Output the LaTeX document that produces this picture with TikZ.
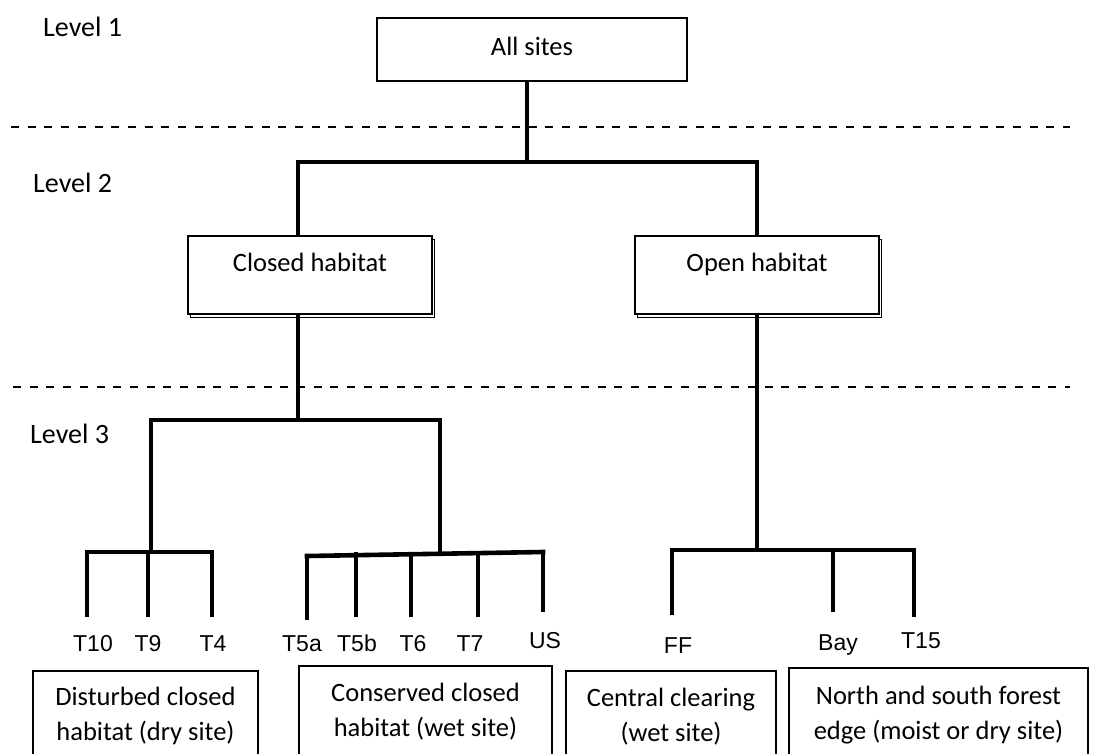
\documentclass[tikz,border=0pt]{standalone}
\usepackage{fontspec}
\setmainfont{Carlito}
\newfontfamily\sitefont{Liberation Sans}
\usetikzlibrary{shadows}

\begin{document}
\begin{tikzpicture}[x=1pt,y=-1pt,
    tree/.style={line width=4.6pt,line cap=rect},
    levelline/.style={line width=2pt,dash pattern=on 8pt off 8.7pt},
    levelname/.style={font=\fontsize{28}{32}\selectfont,anchor=base west,inner sep=0pt},
    habbox/.style={draw,line width=1.8pt,fill=white,inner sep=0pt,minimum width=244pt,
      text height=36pt,text depth=42pt,anchor=north,font=\fontsize{26.5}{32}\selectfont,
      copy shadow={shadow xshift=2pt,shadow yshift=-3pt,line width=0.8pt}},
    sitebox/.style={draw,line width=1.5pt,inner sep=0pt,align=center,anchor=north,
      font=\fontsize{26.5}{35}\selectfont},
    leaf/.style={font=\sitefont\fontsize{23}{28}\selectfont,inner sep=0pt,text height=17pt,anchor=base}]
          \useasboundingbox (0,0) rectangle (1093,753);
          \clip (0,0) rectangle (1093,753);
          % levels
          \node[levelname] (lvl1) at (43,36) {Level 1};
          \node[levelname] (lvl2) at (33,192) {Level 2};
          \node[levelname] (lvl3) at (30,443) {Level 3};
          \draw[levelline] (11,127) -- (1070,127);
          \draw[levelline] (13,387) -- (1070,387);
          % boxes
          \node[draw,line width=1.8pt,inner sep=0pt,minimum width=310pt,text height=37pt,text depth=26pt,
            font=\fontsize{26.5}{32}\selectfont] (all) at (532,49.5) {All sites};
          \node[habbox] (closed) at (310,235) {Closed habitat};
          \node[habbox] (open) at (757,235) {Open habitat};
          \node[sitebox,minimum width=225pt,minimum height=90pt] (dist) at (145.5,670) {Disturbed closed\\habitat (dry site)};
          \node[sitebox,minimum width=253pt,minimum height=91pt] (cons) at (425.5,665) {Conserved closed\\habitat (wet site)};
          \node[sitebox,minimum width=210pt,minimum height=92pt] (clear) at (671,670) {Central clearing\\(wet site)};
          \node[sitebox,minimum width=299pt,minimum height=95pt] (edge) at (938.5,667) {North and south forest\\edge (moist or dry site)};
          % sites
          \node[leaf] (t10) at (93,651) {T10};
          \node[leaf] (t9) at (148,651) {T9};
          \node[leaf] (t4) at (213,651) {T4};
          \node[leaf] (t5a) at (302,651) {T5a};
          \node[leaf] (t5b) at (357,651) {T5b};
          \node[leaf] (t6) at (413,651) {T6};
          \node[leaf] (t7) at (470,651) {T7};
          \node[leaf] (us) at (545,648) {US};
          \node[leaf] (ff) at (678,653) {FF};
          \node[leaf] (bay) at (838,650) {Bay};
          \node[leaf] (t15) at (921,648) {T15};
          % tree
          \coordinate (j1) at (527,162);
          \coordinate (j2) at (298,420);
          \coordinate (lbar) at (151,552);
          \coordinate (mbar) at (440,554);
          \coordinate (mbl) at (307,556);
          \coordinate (mbr) at (543,552);
          \coordinate (rbar) at (758,550);
          \draw[tree] (all.south -| j1) -- (j1);
          \draw[tree] ([xshift=-12pt]closed.north) |- (j1) -| (open.north);
          \draw[tree] ([xshift=-12pt]closed.south) -- (j2);
          \draw[tree] (lbar) |- (j2) -| (mbar);
          \draw[tree] (open.south) -- (open.south |- rbar);
          \draw[tree] (87,552) -- (212,552);
          \draw[tree] (mbl) -- (mbr);
          \draw[tree] (672,550) -- (914,550);
          \draw[tree] ([xshift=-6pt,yshift=19pt]t10.north) -- ([xshift=-6pt]t10.north |- lbar);
          \draw[tree] ([yshift=19pt]t9.north) -- (t9.north |- lbar);
          \draw[tree] ([xshift=-1pt,yshift=19pt]t4.north) -- ([xshift=-1pt]t4.north |- lbar);
          \draw[tree] ([xshift=5pt,yshift=16pt]t5a.north) -- ([xshift=5pt]t5a.north |- mbl);
          \draw[tree] ([xshift=-1pt,yshift=19pt]t5b.north) -- ([xshift=-1pt]t5b.north |- mbar);
          \draw[tree] ([xshift=-2pt,yshift=19pt]t6.north) -- ([xshift=-2pt]t6.north |- mbar);
          \draw[tree] ([xshift=8pt,yshift=19pt]t7.north) -- ([xshift=8pt]t7.north |- mbar);
          \draw[tree] ([xshift=-2pt,yshift=21pt]us.north) -- ([xshift=-2pt]us.north |- mbr);
          \draw[tree] ([xshift=-6pt,yshift=23pt]ff.north) -- ([xshift=-6pt]ff.north |- rbar);
          \draw[tree] ([xshift=-5pt,yshift=23pt]bay.north) -- ([xshift=-5pt]bay.north |- rbar);
          \draw[tree] ([xshift=-7pt,yshift=16pt]t15.north) -- ([xshift=-7pt]t15.north |- rbar);
        \end{tikzpicture}
\end{document}
